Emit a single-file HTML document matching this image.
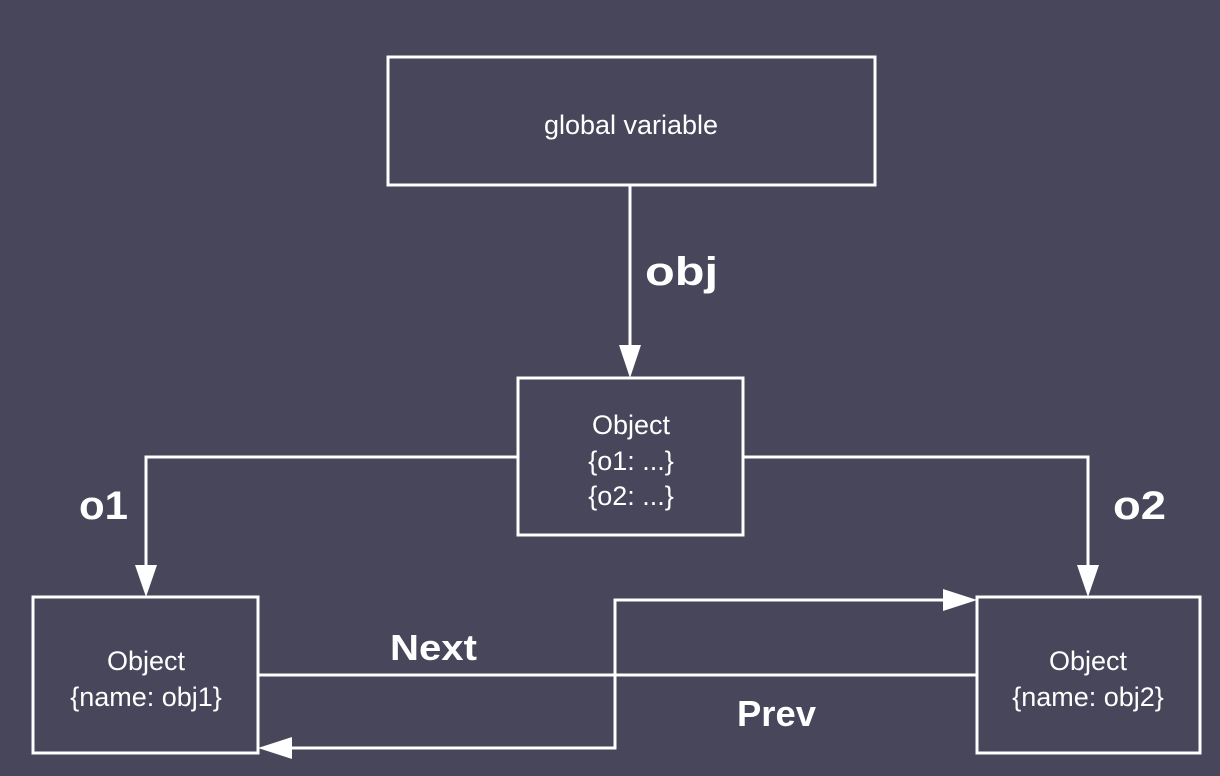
<!DOCTYPE html>
<html><head><style>
body{margin:0;background:#47465a;}
svg{display:block}
text{font-family:"Liberation Sans",sans-serif;fill:#fff}
</style></head><body>
<svg width="1220" height="776" viewBox="0 0 1220 776">
<rect width="1220" height="776" fill="#47465a"/>
<g fill="none" stroke="#fff" stroke-width="3">
<rect x="388" y="57" width="487" height="128"/>
<rect x="518" y="378" width="225" height="157"/>
<rect x="33" y="597" width="225" height="156"/>
<rect x="977" y="597" width="223" height="156"/>
<line x1="630" y1="185" x2="630" y2="350"/>
<polyline points="518,457 146,457 146,570"/>
<polyline points="743,457 1088,457 1088,570"/>
<line x1="258" y1="675" x2="977" y2="675"/>
<polyline points="950,600 615,600 615,748 285,748"/>
</g>
<g fill="#fff">
<polygon points="619,345 641,345 630,378"/>
<polygon points="135,565 157,565 146,597"/>
<polygon points="1077,565 1099,565 1088,597"/>
<polygon points="943,589 943,611 977,600"/>
<polygon points="292,737 292,759 258,748"/>
</g>
<g font-size="27" text-anchor="middle">
<text x="631" y="134">global variable</text>
<text x="631" y="434">Object</text>
<text x="631" y="470">{o1:  ...}</text>
<text x="631" y="505">{o2:  ...}</text>
<text x="146" y="670">Object</text>
<text x="146" y="706">{name: obj1}</text>
<text x="1088" y="670">Object</text>
<text x="1088" y="706">{name: obj2}</text>
</g>
<g font-size="40" font-weight="bold">
<text x="645" y="285" textLength="73" lengthAdjust="spacingAndGlyphs">obj</text>
<text x="79" y="519" textLength="49" lengthAdjust="spacingAndGlyphs">o1</text>
<text x="1113" y="519" textLength="53" lengthAdjust="spacingAndGlyphs">o2</text>
<text x="390" y="660" font-size="36" textLength="87" lengthAdjust="spacingAndGlyphs">Next</text>
<text x="737" y="726" font-size="36" textLength="79" lengthAdjust="spacingAndGlyphs">Prev</text>
</g>
</svg>
</body></html>
